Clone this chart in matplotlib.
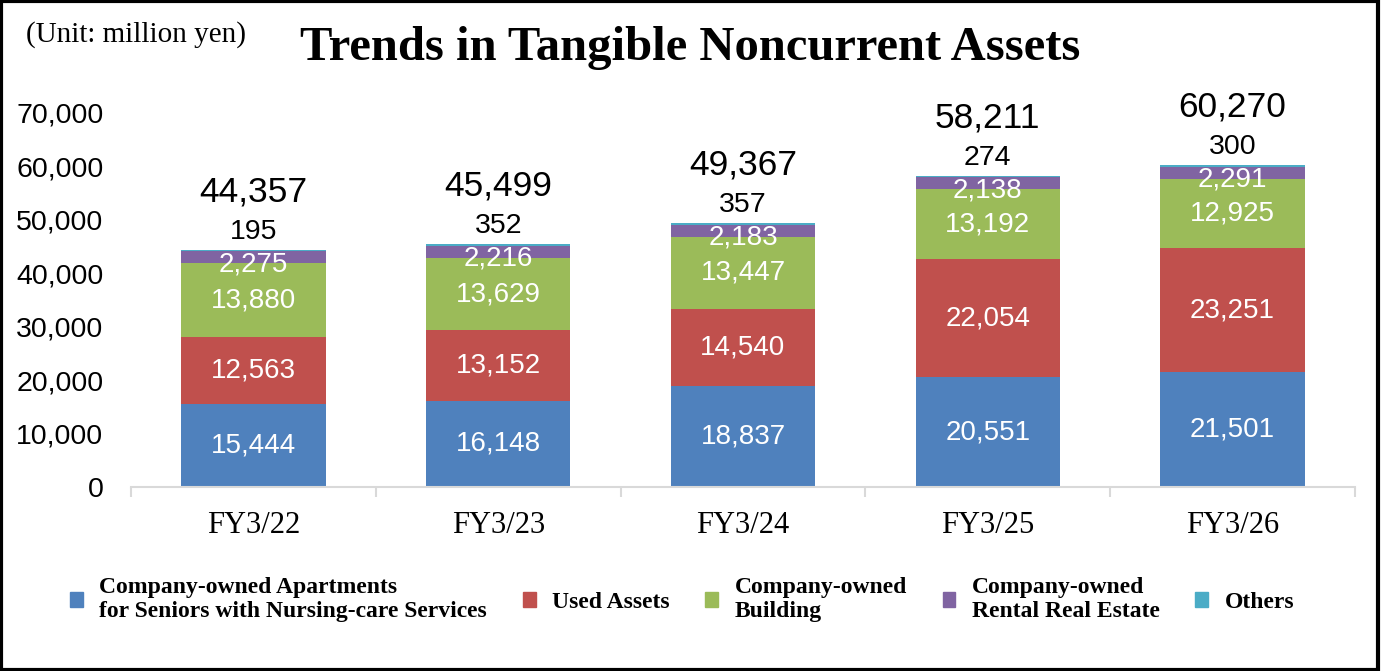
import numpy as np
import matplotlib.pyplot as plt
from matplotlib.patches import Rectangle, Patch

# Data (million yen)
years = ['FY3/22', 'FY3/23', 'FY3/24', 'FY3/25', 'FY3/26']
apartments = [15444, 16148, 18837, 20551, 21501]
used_assets = [12563, 13152, 14540, 22054, 23251]
building = [13880, 13629, 13447, 13192, 12925]
rental = [2275, 2216, 2183, 2138, 2291]
others = [195, 352, 357, 274, 300]
totals = [44357, 45499, 49367, 58211, 60270]

series_names = ['Company-owned Apartments\nfor Seniors with Nursing-care Services',
                'Used Assets', 'Company-owned\nBuilding',
                'Company-owned\nRental Real Estate', 'Others']
colors = ['#4F81BD', '#C0504D', '#9BBB59', '#8064A2', '#4BACC6']

num_font = ['Liberation Sans', 'DejaVu Sans']
serif_font = ['Liberation Serif', 'DejaVu Serif']

fig = plt.figure(figsize=(13.81, 6.71), dpi=100)
ax = fig.add_axes([0.0949, 0.2742, 0.8862, 0.5574])

x = np.arange(len(years))
width = 0.59
bottom = np.zeros(len(years))
stack = [apartments, used_assets, building, rental, others]
for i, vals in enumerate(stack):
    vals = np.array(vals)
    ax.bar(x, vals, width, bottom=bottom, color=colors[i], label=series_names[i])
    if i < 4:
        # rental label sits a little low in the original
        dy = -5 if i == 3 else 0
        for xi, b, v in zip(x, bottom, vals):
            ax.annotate(f'{v:,}', (xi, b + v / 2), xytext=(0, dy), textcoords='offset points',
                        ha='center', va='center', color='white', fontsize=20, family=num_font)
    else:
        for xi, b, v in zip(x, bottom, vals):
            ax.annotate(f'{v:,}', (xi, b + v), xytext=(0, 13), textcoords='offset points',
                        ha='center', va='center', fontsize=20.5, family=num_font)
    bottom += vals

for xi, t in zip(x, totals):
    ax.annotate(f'{t:,}', (xi, t), xytext=(0, 42), textcoords='offset points',
                ha='center', va='center', fontsize=25.5, family=num_font)

ax.set_xlim(-0.5, len(years) - 0.5)
ax.set_ylim(0, 70000)
ax.set_yticks(np.arange(0, 70001, 10000))
ax.set_yticklabels([f'{v:,}' for v in range(0, 70001, 10000)], family=num_font, fontsize=20.5)
ax.tick_params(axis='y', length=0, pad=20)

ax.set_xticks(x)
ax.set_xticklabels(years, family=serif_font, fontsize=22)
ax.set_xticks(np.arange(-0.5, len(years), 1), minor=True)
ax.tick_params(axis='x', which='major', length=0, pad=17)
ax.tick_params(axis='x', which='minor', length=7, color='#D9D9D9', width=1.5)

for s in ['top', 'right', 'left']:
    ax.spines[s].set_visible(False)
ax.spines['bottom'].set_color('#D9D9D9')
ax.spines['bottom'].set_linewidth(1.5)

fig.text(0.5, 0.928, 'Trends in Tangible Noncurrent Assets', ha='center', va='center',
         fontsize=35, fontweight='bold', family=serif_font)
fig.text(0.019, 0.948, '(Unit: million yen)', ha='left', va='center',
         fontsize=21, family=serif_font)

handles = [Patch(color=c) for c in colors]
fig.legend(handles, series_names, ncol=5, loc='center', bbox_to_anchor=(0.494, 0.106),
           frameon=False, handlelength=0.55, handleheight=0.55, handletextpad=0.7,
           columnspacing=1.5, prop={'family': serif_font, 'weight': 'bold', 'size': 17})

fig.add_artist(Rectangle((0.001, 0.002), 0.997, 0.996, transform=fig.transFigure,
                         fill=False, edgecolor='black', linewidth=3))

fig.savefig('out.png', dpi=100)
